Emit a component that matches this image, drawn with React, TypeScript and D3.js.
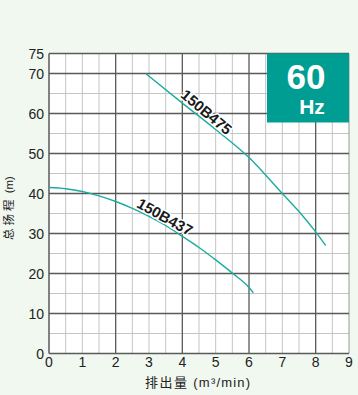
import React from "react";
import * as d3 from "d3";

const xTicks = [0, 1, 2, 3, 4, 5, 6, 7, 8, 9];
const yTicks = [0, 10, 20, 30, 40, 50, 60, 70, 75];
const xMinorGrid = [0.5, 1, 1.5, 2.5, 3, 3.5, 4.5, 5, 5.5, 6.5, 7, 7.5, 8.5];
const xMajorGrid = [2, 4, 6, 8];
const yMinorGrid = [5, 15, 25, 35, 45, 55, 65];
const yMajorGrid = [10, 20, 30, 40, 50, 60, 70];

const b475Flow = [2.9, 4, 5, 6, 7, 7.5, 8, 8.3];
const b475Head = [70, 62.6, 56, 49, 40, 35.5, 30.4, 27];
const b437Flow = [0, 0.5, 1, 1.5, 2, 2.5, 3, 3.5, 4, 4.5, 5, 5.5, 6, 6.13];
const b437Head = [41.5, 41.2, 40.5, 39.4, 38, 36.3, 34.3, 32, 29.3, 26.5, 23.4, 20.1, 16.5, 15.2];

const seriesNames = ["150B475", "150B437"];
const labelFlow = [4.73, 3.48];
const labelHead = [60.4, 34.2];
const labelAngle = [40, 29];

const xTitle = "排出量";
const xUnit = " (m³/min)";
const yTitle = "总扬程";
const yUnit = " (m)";
const badgeBig = "60";
const badgeSmall = "Hz";

export default function App() {
  const W = 358, H = 395;
  const x = d3.scaleLinear().domain([0, 9]).range([49, 349]);
  const y = d3.scaleLinear().domain([0, 75]).range([353.5, 53.5]);
  const line = d3
    .line<[number, number]>()
    .x((d) => x(d[0]))
    .y((d) => y(d[1]))
    .curve(d3.curveMonotoneX);
  const d475 = line(b475Flow.map((f, i) => [f, b475Head[i]]));
  const d437 = line(b437Flow.map((f, i) => [f, b437Head[i]]));
  const teal = "#1aaca0";
  const light = "#c4c4c4";
  const dark = "#5a5a5a";
  const font = "'Liberation Sans', Arial, sans-serif";
  const cjk = "'Noto Sans CJK SC', 'Liberation Sans', sans-serif";
  const [x0, x1] = x.range();
  const [y0, y1] = y.range();

  return (
    <svg
      width={W}
      height={H}
      style={{ position: "absolute", left: 0, top: 0, display: "block" }}
    >
      <rect x={0} y={0} width={W} height={H} fill="#f1f8f0" />
      <rect x={x0} y={y1} width={x1 - x0} height={y0 - y1} fill="#ffffff" />
      {xMinorGrid.map((v) => (
        <line key={"xm" + v} x1={x(v)} x2={x(v)} y1={y1} y2={y0} stroke={light} strokeWidth={1} />
      ))}
      {yMinorGrid.map((v) => (
        <line key={"ym" + v} x1={x0} x2={x1} y1={y(v)} y2={y(v)} stroke={light} strokeWidth={1} />
      ))}
      <line x1={x1} x2={x1} y1={y1} y2={y0} stroke="#9a9a9a" strokeWidth={1} />
      {xMajorGrid.map((v) => (
        <line key={"xM" + v} x1={x(v)} x2={x(v)} y1={y1} y2={y0} stroke={dark} strokeWidth={1.3} />
      ))}
      {yMajorGrid.map((v) => (
        <line key={"yM" + v} x1={x0} x2={x1} y1={y(v)} y2={y(v)} stroke={dark} strokeWidth={1.3} />
      ))}
      <line x1={x0} x2={x1} y1={y1} y2={y1} stroke={dark} strokeWidth={1.3} />
      <line x1={x0} x2={x1} y1={y0} y2={y0} stroke={dark} strokeWidth={1.5} />
      <line x1={x0} x2={x0} y1={y1} y2={y0} stroke={dark} strokeWidth={1.5} />

      <path d={d475 || ""} fill="none" stroke={teal} strokeWidth={1.4} />
      <path d={d437 || ""} fill="none" stroke={teal} strokeWidth={1.4} />

      {seriesNames.map((n, i) => (
        <text
          key={n}
          transform={`translate(${x(labelFlow[i])},${y(labelHead[i])}) rotate(${labelAngle[i]})`}
          textAnchor="middle"
          dominantBaseline="central"
          fontFamily={font}
          fontWeight="bold"
          fontSize={15}
          fill="#1a1a1a"
          stroke="#ffffff"
          strokeWidth={3}
          paintOrder="stroke"
        >
          {n}
        </text>
      ))}

      <rect x={267} y={y1} width={x1 - 267} height={69} fill="#009e92" />
      <text x={306} y={89} textAnchor="middle" fontFamily={font} fontWeight="bold" fontSize={35} fill="#ffffff">
        {badgeBig}
      </text>
      <text x={312} y={114} textAnchor="middle" fontFamily={font} fontWeight="bold" fontSize={21} fill="#ffffff">
        {badgeSmall}
      </text>

      {xTicks.map((v) => (
        <text key={"xt" + v} x={x(v)} y={367} textAnchor="middle" fontFamily={font} fontSize={14} fill="#222">
          {v}
        </text>
      ))}
      {yTicks.map((v) => (
        <text key={"yt" + v} x={44} y={y(v)} textAnchor="end" dominantBaseline="central" fontFamily={font} fontSize={14} fill="#222">
          {v}
        </text>
      ))}

      <text x={145} y={387} fontFamily={font} fontSize={13} fill="#222">
        <tspan fontFamily={cjk} letterSpacing={1.5}>{xTitle}</tspan>
        <tspan letterSpacing={1.2}>{xUnit}</tspan>
      </text>
      <text transform="translate(13,240) rotate(-90)" fontFamily={font} fontSize={11.5} fill="#222">
        <tspan fontFamily={cjk} letterSpacing={3}>{yTitle}</tspan>
        <tspan>{yUnit}</tspan>
      </text>
    </svg>
  );
}
